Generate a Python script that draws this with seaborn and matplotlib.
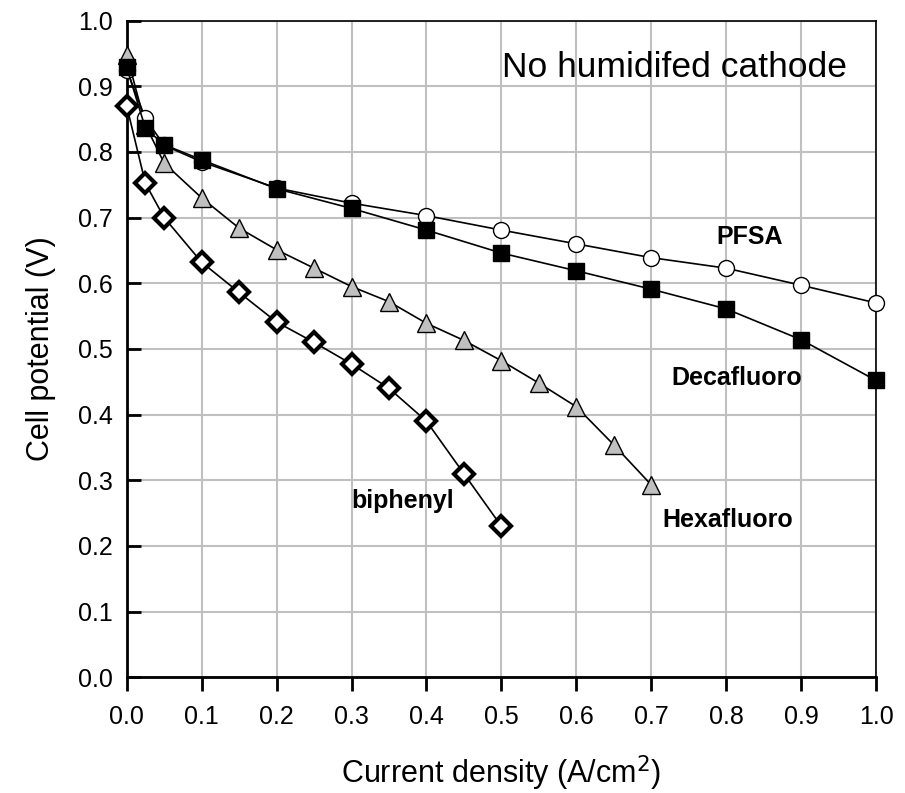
import matplotlib
matplotlib.use("Agg")
import matplotlib.pyplot as plt
import seaborn as sns

pfsa_x = [0, 0.025, 0.05, 0.1, 0.2, 0.3, 0.4, 0.5, 0.6, 0.7, 0.8, 0.9, 1.0]
pfsa_y = [0.925, 0.851, 0.81, 0.785, 0.745, 0.722, 0.703, 0.681, 0.660, 0.639, 0.623, 0.597, 0.570]

deca_x = [0, 0.025, 0.05, 0.1, 0.2, 0.3, 0.4, 0.5, 0.6, 0.7, 0.8, 0.9, 1.0]
deca_y = [0.929, 0.836, 0.811, 0.788, 0.744, 0.714, 0.681, 0.646, 0.619, 0.591, 0.561, 0.514, 0.452]

hexa_x = [0, 0.025, 0.05, 0.1, 0.15, 0.2, 0.25, 0.3, 0.35, 0.4, 0.45, 0.5, 0.55, 0.6, 0.65, 0.7]
hexa_y = [0.948, 0.841, 0.783, 0.730, 0.684, 0.651, 0.623, 0.595, 0.572, 0.539, 0.513, 0.482, 0.448, 0.412, 0.354, 0.293]

biph_x = [0, 0.025, 0.05, 0.1, 0.15, 0.2, 0.25, 0.3, 0.35, 0.4, 0.45, 0.5]
biph_y = [0.870, 0.752, 0.700, 0.632, 0.586, 0.541, 0.510, 0.477, 0.440, 0.390, 0.310, 0.230]

x_ticks = [0.0, 0.1, 0.2, 0.3, 0.4, 0.5, 0.6, 0.7, 0.8, 0.9, 1.0]
y_ticks = [0.0, 0.1, 0.2, 0.3, 0.4, 0.5, 0.6, 0.7, 0.8, 0.9, 1.0]

sns.set_style("white")
plt.rcParams['font.family'] = ['Liberation Sans', 'DejaVu Sans']
plt.rcParams['text.color'] = 'black'
plt.rcParams['axes.labelcolor'] = 'black'
plt.rcParams['xtick.color'] = 'black'
plt.rcParams['ytick.color'] = 'black'

fig = plt.figure(figsize=(9.05, 7.93), dpi=100)
ax = fig.add_axes([0.140, 0.146, 0.828, 0.828])

lw = 1.2
sns.lineplot(x=biph_x, y=biph_y, ax=ax, color='black', lw=lw, marker='D',
             markersize=10, markerfacecolor='white', markeredgecolor='black',
             markeredgewidth=3.0, zorder=3, clip_on=False)
sns.lineplot(x=hexa_x, y=hexa_y, ax=ax, color='black', lw=lw, marker='^',
             markersize=12.5, markerfacecolor='#c0c0c0', markeredgecolor='black',
             markeredgewidth=1.0, zorder=3, clip_on=False)
sns.lineplot(x=deca_x, y=deca_y, ax=ax, color='black', lw=lw, marker='s',
             markersize=11.5, markerfacecolor='black', markeredgecolor='black',
             markeredgewidth=1.0, zorder=4, clip_on=False)
sns.lineplot(x=pfsa_x, y=pfsa_y, ax=ax, color='black', lw=lw, marker='o',
             markersize=11.5, markerfacecolor='white', markeredgecolor='black',
             markeredgewidth=1.0, zorder=3, clip_on=False)

ax.set_xlim(0, 1.0)
ax.set_ylim(0, 1.0)
ax.set_xticks(x_ticks)
ax.set_yticks(y_ticks)
ax.set_xticklabels([f"{v:.1f}" for v in x_ticks], fontsize=18)
ax.set_yticklabels([f"{v:.1f}" for v in y_ticks], fontsize=18)
ax.grid(True, color='#c0c0c0', lw=1.5)
ax.set_axisbelow(True)

for s in ['top', 'right']:
    ax.spines[s].set_linewidth(1.2)
    ax.spines[s].set_color('black')
for s in ['left', 'bottom']:
    ax.spines[s].set_linewidth(2.0)
    ax.spines[s].set_color('black')

ax.tick_params(axis='y', direction='in', length=10, width=2, left=True, pad=10)
ax.tick_params(axis='x', direction='out', length=10, width=2, bottom=True, pad=10)

ax.set_xlabel("Current density (A/cm$^2$)", fontsize=22, labelpad=18)
ax.set_ylabel("Cell potential (V)", fontsize=22, labelpad=16)

ax.text(0.5005, 0.914, "No humidifed cathode", fontsize=25.5, ha='left', va='baseline')
ax.text(0.787, 0.660, "PFSA", fontsize=18, fontweight='bold', ha='left', va='baseline')
ax.text(0.727, 0.445, "Decafluoro", fontsize=18, fontweight='bold', ha='left', va='baseline')
ax.text(0.715, 0.229, "Hexafluoro", fontsize=18, fontweight='bold', ha='left', va='baseline')
ax.text(0.300, 0.258, "biphenyl", fontsize=18, fontweight='bold', ha='left', va='baseline')

fig.savefig("out.png", dpi=100)
